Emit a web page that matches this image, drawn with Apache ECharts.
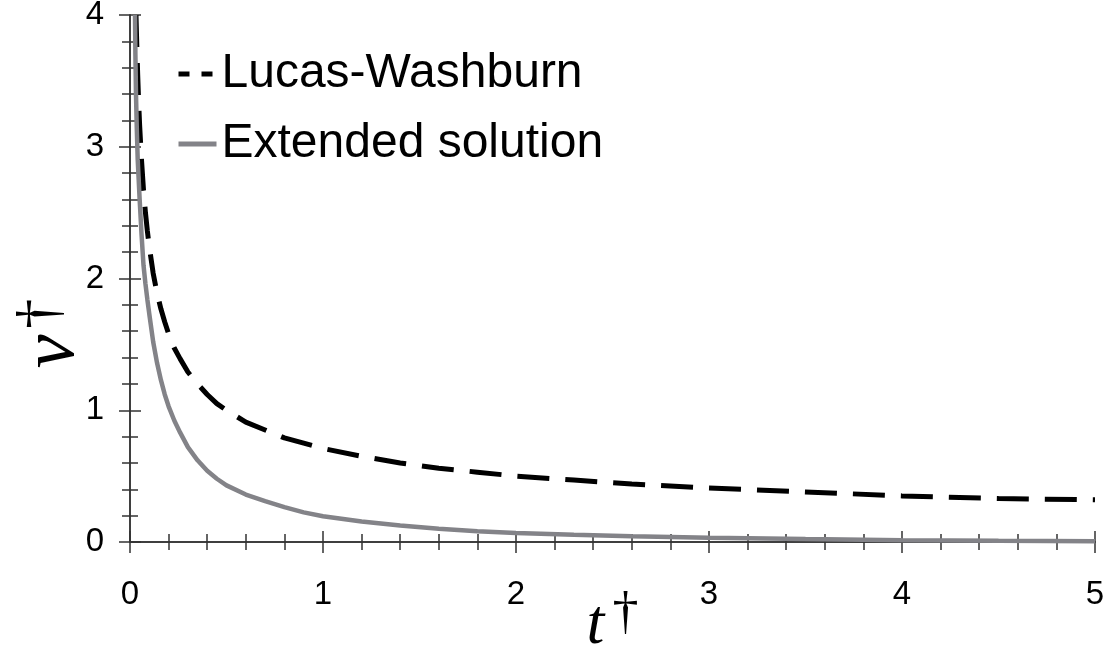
<!DOCTYPE html>
<html>
<head>
<meta charset="utf-8">
<script src="https://cdn.jsdelivr.net/npm/echarts@6/dist/echarts.min.js"></script>
<style>
  html, body { margin: 0; padding: 0; background: #fff; }
  #chart { width: 1108px; height: 649px; }
</style>
</head>
<body>
<div id="chart"></div>
<script>
// values
const tLW = [0.031, 0.035, 0.04, 0.045, 0.05, 0.06, 0.07, 0.08, 0.09, 0.1, 0.12, 0.14, 0.16, 0.18, 0.2, 0.23, 0.26, 0.3, 0.35, 0.4, 0.45, 0.5, 0.6, 0.7, 0.8, 0.9, 1.0, 1.2, 1.4, 1.6, 1.8, 2.0, 2.3, 2.6, 3.0, 3.5, 4.0, 4.5, 5.0];
const vLW = [4.0, 3.78, 3.54, 3.33, 3.16, 2.89, 2.67, 2.5, 2.36, 2.24, 2.04, 1.89, 1.77, 1.67, 1.58, 1.47, 1.39, 1.29, 1.2, 1.12, 1.05, 1.0, 0.91, 0.85, 0.79, 0.75, 0.71, 0.65, 0.6, 0.56, 0.53, 0.5, 0.47, 0.44, 0.41, 0.38, 0.35, 0.33, 0.32];

const tExt = [0.026, 0.028, 0.031, 0.035, 0.04, 0.045, 0.05, 0.06, 0.07, 0.08, 0.09, 0.1, 0.12, 0.14, 0.16, 0.18, 0.2, 0.23, 0.26, 0.3, 0.35, 0.4, 0.45, 0.5, 0.6, 0.7, 0.8, 0.9, 1.0, 1.2, 1.4, 1.6, 1.8, 2.0, 2.3, 2.6, 3.0, 3.5, 4.0, 4.5, 5.0];
const vExt = [4.0, 3.7, 3.4, 3.15, 2.9, 2.75, 2.6, 2.33, 2.1, 1.96, 1.84, 1.73, 1.52, 1.36, 1.23, 1.12, 1.03, 0.92, 0.83, 0.72, 0.62, 0.54, 0.48, 0.43, 0.36, 0.31, 0.265, 0.225, 0.195, 0.155, 0.125, 0.1, 0.082, 0.068, 0.055, 0.044, 0.032, 0.022, 0.014, 0.009, 0.006];

const xTicks = { min: 0, max: 5, interval: 1 };
const yTicks = { min: 0, max: 4, interval: 1 };

const zip = (xs, ys) => xs.map((x, i) => [x, ys[i]]);

const axisLine = { show: true, lineStyle: { color: '#333', width: 1.5 } };
const axisTick = { show: true, inside: false, length: 11, lineStyle: { color: '#333', width: 1.5 } };
const minorTick = { show: true, splitNumber: 5, length: 8, lineStyle: { color: '#333', width: 1.5 } };
const tickFont = { color: '#000', fontSize: 33, fontFamily: 'Liberation Sans' };
const serif = { fontFamily: 'Liberation Serif', color: '#000', fontWeight: 'normal' };

const chart = echarts.init(document.getElementById('chart'));

chart.setOption({
  animation: false,
  backgroundColor: '#fff',
  grid: { left: 130, right: 13, top: 15, bottom: 107, outerBoundsMode: 'none', containLabel: false },
  legend: {
    show: true,
    orient: 'vertical',
    left: 171,
    top: 44,
    itemWidth: 38,
    itemHeight: 14,
    itemGap: 20,
    textStyle: { fontSize: 48, fontFamily: 'Liberation Sans', color: '#000', lineHeight: 50 },
    data: [
      { name: 'Lucas-Washburn', lineStyle: { type: [11, 12], width: 5 }, itemStyle: { opacity: 0 } },
      { name: 'Extended solution', lineStyle: { width: 5 }, itemStyle: { opacity: 0 } }
    ]
  },
  xAxis: [
    {
      type: 'value', position: 'bottom', ...xTicks,
      axisLine, axisTick, minorTick,
      splitLine: { show: false },
      axisLabel: { ...tickFont, margin: 36 },
      name: '{t|t}{d|†}',
      nameLocation: 'middle',
      nameGap: 46,
      nameMoveOverlap: false,
      nameTextStyle: {
        rich: {
          t: { ...serif, fontStyle: 'italic', fontSize: 64, lineHeight: 70, verticalAlign: 'bottom' },
          d: { ...serif, fontSize: 52, lineHeight: 70, verticalAlign: 'top', padding: [0, 0, 0, 8] }
        }
      }
    },
    {
      type: 'value', position: 'top', ...xTicks,
      axisLine, axisTick, minorTick,
      splitLine: { show: false },
      axisLabel: { show: false }
    }
  ],
  yAxis: [
    {
      type: 'value', position: 'left', ...yTicks,
      axisLine, axisTick, minorTick,
      splitLine: { show: false },
      axisLabel: { ...tickFont, margin: 26 },
      name: '{v|v}{d|†}',
      nameLocation: 'middle',
      nameRotate: 90,
      nameGap: 39,
      nameMoveOverlap: false,
      nameTextStyle: {
        padding: [0, 110, 0, 0],
        rich: {
          v: { ...serif, fontStyle: 'italic', fontSize: 76, lineHeight: 80, verticalAlign: 'bottom' },
          d: { ...serif, fontSize: 60, lineHeight: 80, verticalAlign: 'top', padding: [0, 0, 0, 6] }
        }
      }
    },
    {
      type: 'value', position: 'right', ...yTicks,
      axisLine, axisTick, minorTick,
      splitLine: { show: false },
      axisLabel: { show: false }
    }
  ],
  series: [
    {
      name: 'Lucas-Washburn',
      type: 'line',
      data: zip(tLW, vLW),
      showSymbol: false,
      symbol: 'none',
      color: '#000',
      lineStyle: { color: '#000', width: 5, type: [32, 16] },
      z: 2
    },
    {
      name: 'Extended solution',
      type: 'line',
      data: zip(tExt, vExt),
      showSymbol: false,
      symbol: 'none',
      color: '#838388',
      lineStyle: { color: '#838388', width: 4.5 },
      z: 3
    }
  ]
});
</script>
</body>
</html>
